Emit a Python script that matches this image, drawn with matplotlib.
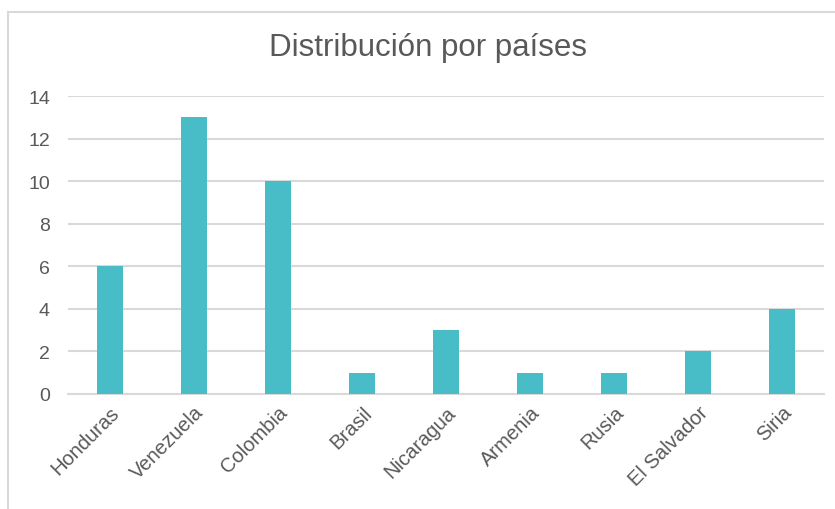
import matplotlib.pyplot as plt
from matplotlib.patches import Rectangle

plt.rcParams['font.family'] = ['Liberation Sans', 'DejaVu Sans']

paises = ['Honduras', 'Venezuela', 'Colombia', 'Brasil', 'Nicaragua',
          'Armenia', 'Rusia', 'El Salvador', 'Siria']
cantidad = [6, 13, 10, 1, 3, 1, 1, 2, 4]
y_ticks = [0, 2, 4, 6, 8, 10, 12, 14]

bar_color = '#48BDC7'
grid_color = '#D9D9D9'
text_color = '#595959'

fig = plt.figure(figsize=(8.35, 5.1), dpi=100)
ax = fig.add_axes([68 / 835, 115 / 510, 756 / 835, 298 / 510])

# chart frame (cut off at right and bottom like the screenshot)
fig.patches.append(Rectangle((8 / 835, -0.05), 1.0, 1.05 - 13 / 510,
                             transform=fig.transFigure, fill=False,
                             edgecolor=grid_color, linewidth=1.5))

x = range(len(paises))
ax.bar(x, cantidad, width=0.32, color=bar_color, zorder=3)

ax.set_xlim(-0.5, len(paises) - 0.5)
ax.set_ylim(0, 14)
ax.set_yticks(y_ticks)
ax.set_xticks(list(x))
ax.set_xticklabels(paises, rotation=45, ha='right', rotation_mode='anchor',
                   fontsize=14.5, color=text_color)
ax.tick_params(axis='y', labelsize=14, labelcolor=text_color, length=0, pad=13)
ax.tick_params(axis='x', length=0, pad=6)

ax.grid(axis='y', color=grid_color, linewidth=1.5, zorder=0)
for side in ['top', 'right', 'left']:
    ax.spines[side].set_visible(False)
ax.spines['bottom'].set_color(grid_color)
ax.spines['bottom'].set_linewidth(1.5)

fig.text(428 / 835, 1 - 48 / 510, 'Distribución por países', ha='center',
         va='center', fontsize=22.5, color=text_color)

fig.savefig('out.png', dpi=100)
